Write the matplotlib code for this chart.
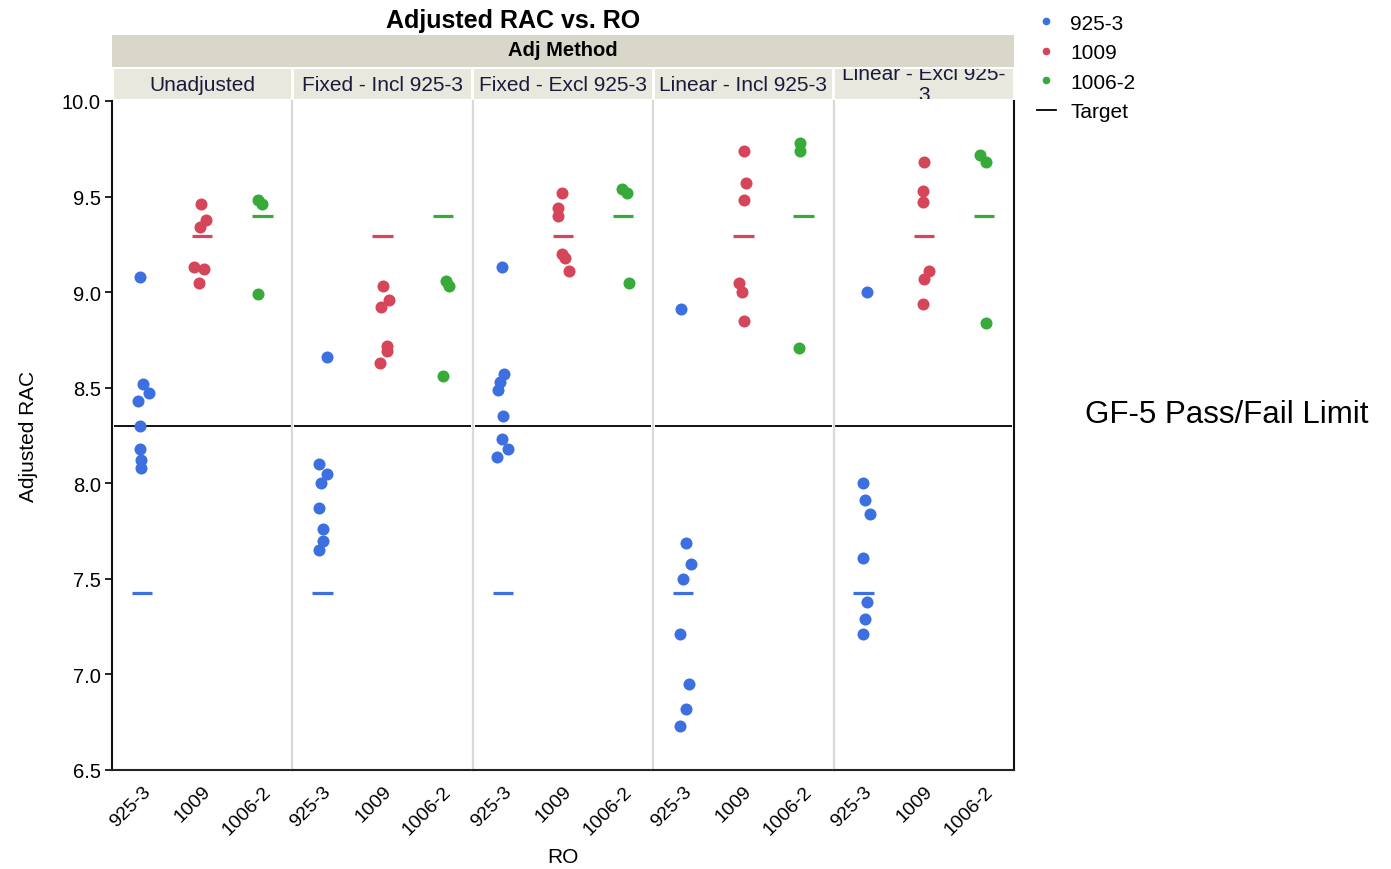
import matplotlib
matplotlib.use('Agg')
import matplotlib.pyplot as plt
from matplotlib.lines import Line2D
from matplotlib.patches import Rectangle

plt.rcParams['font.family'] = ['Liberation Sans', 'DejaVu Sans']

# ---- data ----
methods = ["Unadjusted", "Fixed - Incl 925-3", "Fixed - Excl 925-3",
           "Linear - Incl 925-3", "Linear - Excl 925-\n3"]
ro_labels = ["925-3", "1009", "1006-2"]
colors = ["#3c6fe0", "#d6465a", "#37aa3a"]
targets = [7.425, 9.295, 9.40]
pass_fail_limit = 8.3

vals_9253 = [
    [9.08, 8.52, 8.47, 8.43, 8.30, 8.18, 8.12, 8.08],
    [8.66, 8.10, 8.05, 8.00, 7.87, 7.76, 7.70, 7.65],
    [9.13, 8.57, 8.53, 8.49, 8.35, 8.23, 8.18, 8.14],
    [8.91, 7.69, 7.58, 7.50, 7.21, 6.95, 6.82, 6.73],
    [9.00, 8.00, 7.91, 7.84, 7.61, 7.38, 7.29, 7.21],
]
jit_9253 = [
    [-0.03, 0.02, 0.12, -0.06, -0.03, -0.03, -0.02, -0.02],
    [0.07, -0.05, 0.07, -0.02, -0.05, 0.01, 0.01, -0.05],
    [-0.02, 0.02, -0.05, -0.08, 0.01, -0.02, 0.08, -0.10],
    [-0.04, 0.05, 0.13, -0.01, -0.05, 0.10, 0.05, -0.05],
    [0.05, -0.01, 0.02, 0.10, -0.01, 0.05, 0.02, -0.01],
]
vals_1009 = [
    [9.46, 9.38, 9.34, 9.13, 9.12, 9.05],
    [9.03, 8.96, 8.92, 8.72, 8.69, 8.63],
    [9.52, 9.44, 9.40, 9.20, 9.18, 9.11],
    [9.74, 9.57, 9.48, 9.05, 9.00, 8.85],
    [9.68, 9.53, 9.47, 9.11, 9.07, 8.94],
]
jit_1009 = [
    [-0.02, 0.06, -0.04, -0.14, 0.03, -0.05],
    [0.01, 0.10, -0.03, 0.07, 0.07, -0.05],
    [-0.02, -0.08, -0.08, -0.02, 0.04, 0.10],
    [0.01, 0.05, 0.01, -0.08, -0.02, 0.01],
    [0.01, -0.02, -0.02, 0.08, 0.01, -0.02],
]
vals_10062 = [
    [9.48, 9.46, 8.99],
    [9.06, 9.03, 8.56],
    [9.54, 9.52, 9.05],
    [9.78, 9.74, 8.71],
    [9.72, 9.68, 8.84],
]
jit_10062 = [
    [-0.08, -0.01, -0.08],
    [0.06, 0.10, 0.00],
    [-0.02, 0.06, 0.10],
    [-0.06, -0.06, -0.08],
    [-0.06, 0.04, 0.04],
]

W, H = 1391, 870
fig = plt.figure(figsize=(W / 100, H / 100), dpi=100)
L, R, B, T = 112 / W, 1014 / W, 1 - 771 / H, 1 - 102 / H
axes = fig.subplots(1, 5, sharey=True)
fig.subplots_adjust(left=L, right=R, bottom=B, top=T, wspace=0)

sep = '#d9d9d9'
all_vals = [vals_9253, vals_1009, vals_10062]
all_jit = [jit_9253, jit_1009, jit_10062]

for i, ax in enumerate(axes):
    for k in range(3):
        v = all_vals[k][i]
        x = [k + j for j in all_jit[k][i]]
        ax.scatter(x, v, s=75, color=colors[k], zorder=3, linewidths=0)
        ax.hlines(targets[k], k - 0.17, k + 0.17, color=colors[k], lw=2.3, zorder=2)
    ax.hlines(pass_fail_limit, -0.47, 2.47, color='#111111', lw=1.4, zorder=1)
    ax.set_xlim(-0.5, 2.5)
    ax.set_ylim(6.5, 10.0)
    ax.set_xticks(range(3))
    ax.set_xticklabels(ro_labels, rotation=45, ha='right', rotation_mode='anchor',
                       fontsize=14)
    ax.tick_params(axis='x', length=0, pad=9)
    ax.spines['top'].set_visible(False)
    ax.spines['bottom'].set_color('#222222')
    ax.spines['bottom'].set_linewidth(1.5)
    if i == 0:
        ax.spines['left'].set_color('#111111')
        ax.spines['left'].set_linewidth(1.5)
    else:
        ax.spines['left'].set_color(sep)
        ax.spines['left'].set_linewidth(1.6)
        ax.tick_params(axis='y', left=False)
    if i == 4:
        ax.spines['right'].set_color('#111111')
        ax.spines['right'].set_linewidth(1.5)
    else:
        ax.spines['right'].set_visible(False)

axes[0].set_yticks([6.5, 7.0, 7.5, 8.0, 8.5, 9.0, 9.5, 10.0])
axes[0].set_yticklabels(['6.5', '7.0', '7.5', '8.0', '8.5', '9.0', '9.5', '10.0'])
axes[0].tick_params(axis='y', labelsize=14.5, length=5, width=1.2, pad=3)
axes[0].set_ylabel("Adjusted RAC", fontsize=15, labelpad=17)

fig.text((112 + 1014) / 2 / W, 1 - 858 / H, "RO", ha='center', va='center', fontsize=15)

# strip headers
fig.patches.append(Rectangle((L, 1 - 68 / H), R - L, 32 / H, transform=fig.transFigure,
                             facecolor='#d9d7c9', edgecolor='none', zorder=0))
fig.text((L + R) / 2, 1 - 51 / H, "Adj Method", ha='center', va='center',
         fontsize=14.5, fontweight='bold')
for i, ax in enumerate(axes):
    p = ax.get_position()
    x0 = p.x0 + 1.5 / W
    w = p.width - 3 / W
    sub = fig.add_axes([x0, 1 - 100 / H, w, 30 / H])
    sub.set_facecolor('#e9e8df')
    sub.set_xticks([])
    sub.set_yticks([])
    for s in sub.spines.values():
        s.set_visible(False)
    ty = 0.5 if i == 4 else 0.47
    sub.text(0.5, ty, methods[i], ha='center', va='center', fontsize=15,
             color='#1a1a3a', transform=sub.transAxes, clip_on=True,
             linespacing=1.15)

fig.text(513 / W, 1 - 21 / H, "Adjusted RAC vs. RO", ha='center', va='center',
         fontsize=18, fontweight='bold')

# legend
handles = [Line2D([], [], marker='o', ls='none', color=c, markersize=4.5) for c in colors]
handles.append(Line2D([], [], color='black', lw=1.3))
fig.legend(handles, ro_labels + ["Target"], loc='upper left',
           bbox_to_anchor=(1018 / W, 1 + 4 / H), frameon=False, fontsize=15,
           handlelength=0.9, handletextpad=0.7, labelspacing=0.5)

fig.text(1085 / W, 1 - 415 / H, "GF-5 Pass/Fail Limit", ha='left', va='center', fontsize=22.5)

plt.savefig("out.png", dpi=100)
plt.close()
